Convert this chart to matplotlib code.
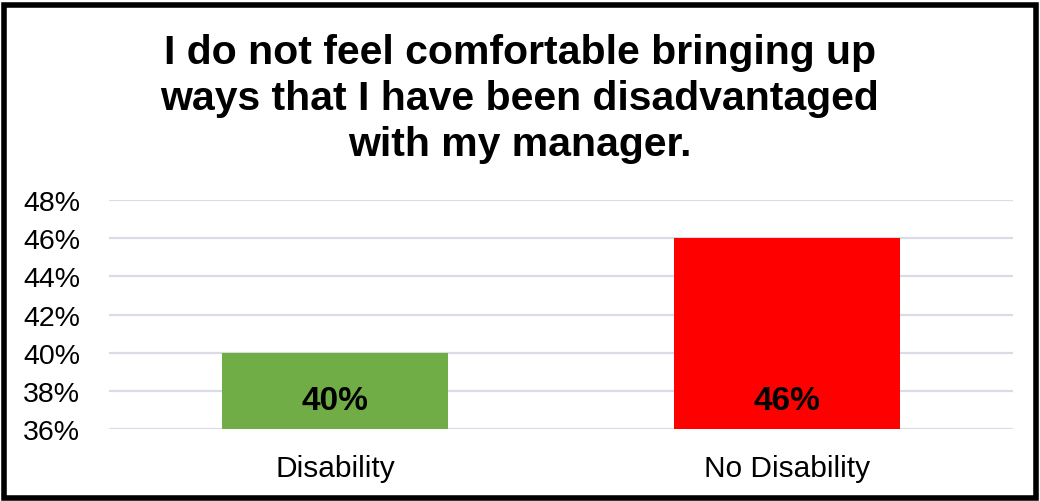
import matplotlib.pyplot as plt
from matplotlib.patches import Rectangle
from matplotlib.ticker import PercentFormatter

plt.rcParams['font.family'] = ['Liberation Sans', 'DejaVu Sans']

# Share of respondents agreeing, by group
groups = ['Disability', 'No Disability']
shares = [40, 46]
bar_colors = ['#70AD47', '#FF0000']
y_ticks = [36, 38, 40, 42, 44, 46, 48]

title = ('I do not feel comfortable bringing up\n'
         'ways that I have been disadvantaged\n'
         'with my manager.')

fig = plt.figure(figsize=(10.4, 5.02), dpi=100)
ax = fig.add_axes([0.105, 0.1434, 0.869, 0.4562])

x = range(len(groups))
bars = ax.bar(x, shares, width=0.5, color=bar_colors, zorder=2)
ax.set_xlim(-0.5, 1.5)
ax.set_ylim(y_ticks[0], y_ticks[-1])
ax.set_yticks(y_ticks)
ax.yaxis.set_major_formatter(PercentFormatter(decimals=0))
ax.set_xticks(list(x))
ax.set_xticklabels(groups, fontsize=21.5)
ax.tick_params(axis='y', labelsize=20.5, length=0, pad=21)
ax.tick_params(axis='x', length=0, pad=18)

ax.grid(axis='y', color='#D9DCE6', linewidth=1.6, zorder=0)
for side in ax.spines.values():
    side.set_visible(False)

# value labels sit near the base of each bar
for rect, val in zip(bars, shares):
    ax.text(rect.get_x() + rect.get_width() / 2, y_ticks[0] + 1.47, f'{val}%',
            ha='center', va='center', fontsize=24, fontweight='bold', zorder=3)

fig.text(0.5, 0.803, title, ha='center', va='center', fontsize=29.5,
         fontweight='bold', linespacing=1.27)

# black frame round the whole chart
fig.patches.append(Rectangle((0.004, 0.006), 0.992, 0.982, transform=fig.transFigure,
                             fill=False, edgecolor='black', linewidth=4))

fig.savefig('out.png', dpi=100)
